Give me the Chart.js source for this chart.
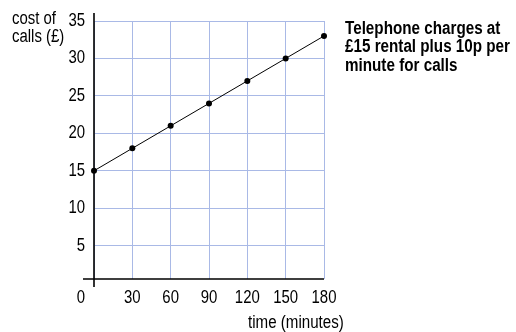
<!DOCTYPE html>
<html><head><meta charset="utf-8">
<script src="https://cdn.jsdelivr.net/npm/chart.js@4/dist/chart.umd.min.js"></script>
<style>
html,body{margin:0;padding:0;background:#fff;}
#wrap{position:relative;width:516px;height:332px;}
canvas{position:absolute;left:0;top:0;}
.t{position:absolute;font-family:"Liberation Sans",Arial,sans-serif;font-size:18px;line-height:18.3px;color:#000;white-space:nowrap;transform-origin:0 0;transform:scaleX(0.83);}
.b{font-weight:bold;font-size:17.5px;line-height:18.5px;transform:scaleX(0.87);}
</style></head><body>
<div id="wrap">
<canvas id="c" width="516" height="332"></canvas>
<div class="t" style="left:12px;top:9px;">cost of<br>calls (£)</div>
<div class="t" style="left:248px;top:313px;transform:scaleX(0.84);">time (minutes)</div>
<div class="t b" style="left:345px;top:18.7px;">Telephone charges at<br>£15 rental plus 10p per<br>minute for calls</div>
</div>
<script>
const minutes = [0, 30, 60, 90, 120, 150, 180];
const cost = [15, 18, 21, 24, 27, 30, 33];
const xTicks = [0, 30, 60, 90, 120, 150, 180];
const yTicks = [5, 10, 15, 20, 25, 30, 35];
const originLabel = '0';

const FONT = '"Liberation Sans",Arial,sans-serif';
const SX = 0.83;

function narrowFill(ctx, fn) {
  const orig = ctx.fillText;
  ctx.fillText = function (t, x, y) {
    this.save();
    this.translate(x, y);
    this.scale(SX, 1);
    orig.call(this, t, 0, 0);
    this.restore();
  };
  try { fn(); } finally { ctx.fillText = orig; }
}

function patchLabels(s) {
  if (s._narrowed) return;
  s._narrowed = true;
  const orig = s.drawLabels;
  s.drawLabels = function (ca) {
    narrowFill(this.ctx, () => orig.call(this, ca));
  };
}

const axesPlugin = {
  id: 'axesPlugin',
  afterDraw(chart) {
    const ctx = chart.ctx, a = chart.chartArea;
    const x0 = chart.scales.x.getPixelForValue(0);
    ctx.save();
    ctx.strokeStyle = '#000';
    ctx.lineWidth = 1.6;
    ctx.beginPath();
    ctx.moveTo(x0, a.top - 8);
    ctx.lineTo(x0, a.bottom + 8);
    ctx.moveTo(x0 - 11, a.bottom);
    ctx.lineTo(a.right, a.bottom);
    ctx.stroke();
    ctx.fillStyle = '#000';
    ctx.font = '18px ' + FONT;
    ctx.textAlign = 'center';
    ctx.textBaseline = 'alphabetic';
    narrowFill(ctx, () => ctx.fillText(originLabel, x0 - 13, a.bottom + 24));
    ctx.restore();
  }
};

new Chart(document.getElementById('c'), {
  type: 'line',
  data: {
    datasets: [{
      data: minutes.map((m, i) => ({x: m, y: cost[i]})),
      borderColor: '#000',
      borderWidth: 1,
      backgroundColor: '#000',
      pointRadius: 3,
      pointBackgroundColor: '#000',
      pointBorderWidth: 0,
      fill: false,
      tension: 0,
      clip: false
    }]
  },
  options: {
    responsive: false,
    animation: false,
    devicePixelRatio: 1,
    layout: { padding: { top: 21, right: 192, left: 0, bottom: 0 } },
    plugins: { legend: { display: false }, tooltip: { enabled: false } },
    scales: {
      x: {
        type: 'linear',
        min: 0, max: 180,
        afterBuildTicks: s => { s.ticks = xTicks.map(v => ({value: v})); },
        afterFit: s => { s.height = 53; s.paddingLeft = 0; s.paddingRight = 0; patchLabels(s); },
        grid: { color: '#a9b9e6', lineWidth: 1, drawTicks: false },
        border: { display: false },
        ticks: {
          padding: 8,
          color: '#000',
          font: { family: FONT, size: 18 },
          maxRotation: 0,
          autoSkip: false,
          callback: v => v === 0 ? '' : String(v)
        }
      },
      y: {
        type: 'linear',
        min: 0.55, max: 35,
        afterBuildTicks: s => { s.ticks = yTicks.map(v => ({value: v})); },
        afterFit: s => { s.width = 94; s.paddingTop = 0; s.paddingBottom = 0; patchLabels(s); },
        grid: { color: '#a9b9e6', lineWidth: 1, drawTicks: false },
        border: { display: false },
        ticks: {
          padding: 9,
          color: '#000',
          font: { family: FONT, size: 18 },
          autoSkip: false
        }
      }
    }
  },
  plugins: [axesPlugin]
});
</script>
</body></html>
